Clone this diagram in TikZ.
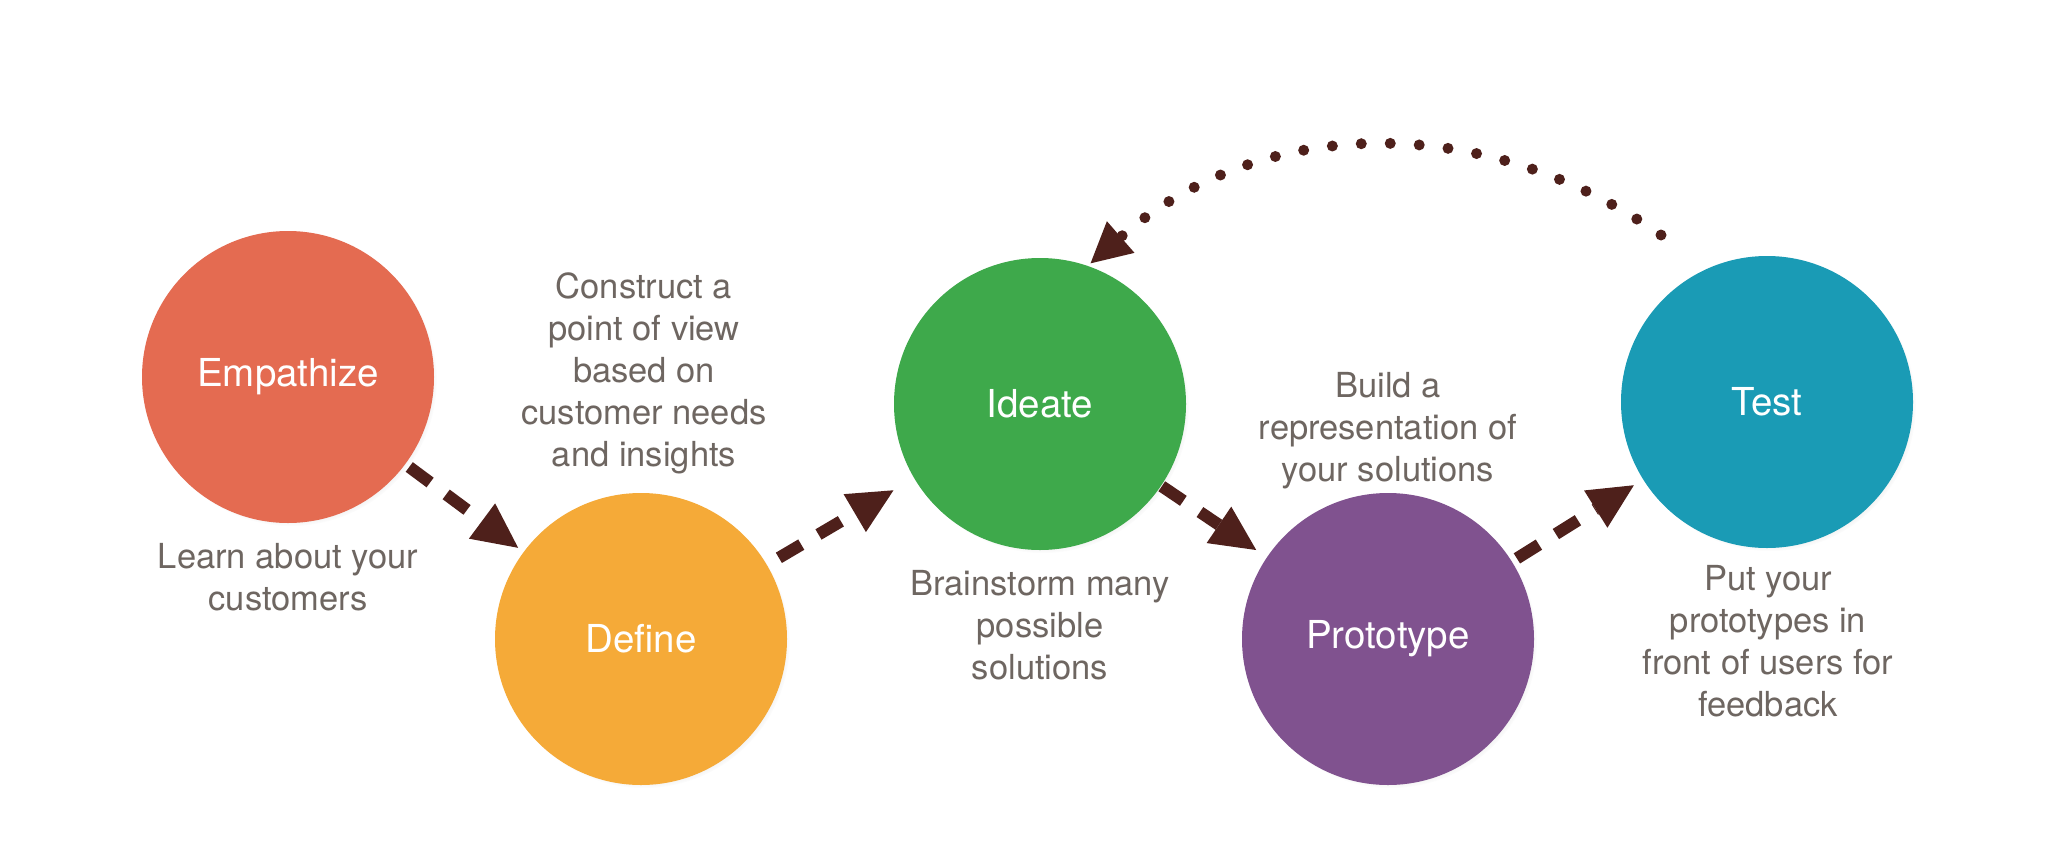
\documentclass[tikz,border=0pt]{standalone}
\usepackage{fontspec}
\setmainfont{TeX Gyre Heros}
\usetikzlibrary{arrows.meta,shadows}

\definecolor{empcol}{HTML}{E46B51}
\definecolor{defcol}{HTML}{F5AA38}
\definecolor{ideacol}{HTML}{3EA94B}
\definecolor{protocol}{HTML}{80528F}
\definecolor{testcol}{HTML}{1A9BB5}
\definecolor{linkcol}{HTML}{4E201B}
\definecolor{notecol}{HTML}{6E6661}

\begin{document}
\begin{tikzpicture}[x=1pt,y=-1pt,
  stage/.style={circle, minimum size=292pt, inner sep=0pt, outer sep=0pt,
    text=white, font=\fontsize{38.5}{46}\selectfont,
    circular drop shadow={shadow xshift=3pt, shadow yshift=-3pt,
      shadow scale=1.0, opacity=.35}},
  note/.style={align=center, anchor=north, inner sep=0pt, text=notecol,
    font=\fontsize{34.5}{42}\selectfont},
  flow/.style={draw=linkcol, line width=12pt, dash pattern=on 26pt off 20pt,
    -{Triangle[length=45pt, width=44pt, line width=0pt]}},
  loopback/.style={draw=linkcol, line width=11pt, line cap=round,
    dash pattern=on 0pt off 29pt,
    -{Triangle[length=40pt, width=42pt, line width=0pt]}}
]
% canvas
\fill[white] (0,0) rectangle (2070,844);
\useasboundingbox (0,0) rectangle (2070,844);

% the five stages
\node[stage, fill=empcol]   (emp)   at (288,377)  {Empathize};
\node[stage, fill=defcol]   (def)   at (641,639)  {Define};
\node[stage, fill=ideacol]  (idea)  at (1040,404) {Ideate};
\node[stage, fill=protocol] (proto) at (1388,639) {Prototype};
\node[stage, fill=testcol]  (test)  at (1767,402) {Test};

% descriptions
\node[note] (empnote)   at (288,543)  {Learn about your\\customers};
\node[note] (defnote)   at (644,273)  {Construct a\\point of view\\based on\\customer needs\\and insights};
\node[note] (ideanote)  at (1040,570) {Brainstorm many\\possible\\solutions};
\node[note] (protonote) at (1388,372) {Build a\\representation of\\your solutions};
\node[note] (testnote)  at (1768,565) {Put your\\prototypes in\\front of users for\\feedback};

% forward flow
\draw[flow, shorten <=5pt,  shorten >=7pt]  (emp)   -- (def);
\draw[flow, shorten <=14pt, shorten >=24pt] (def)   -- (idea);
\draw[flow, shorten <=1pt,  shorten >=13pt] (idea)  -- (proto);
\draw[flow, shorten <=6pt,  shorten >=11pt] (proto) -- (test);

% iteration loop back to ideation
\coordinate (loopstart) at (1661,235);
\draw[loopback, shorten >=4pt] (loopstart) to[bend right=38] (idea.71);
\end{tikzpicture}
\end{document}
